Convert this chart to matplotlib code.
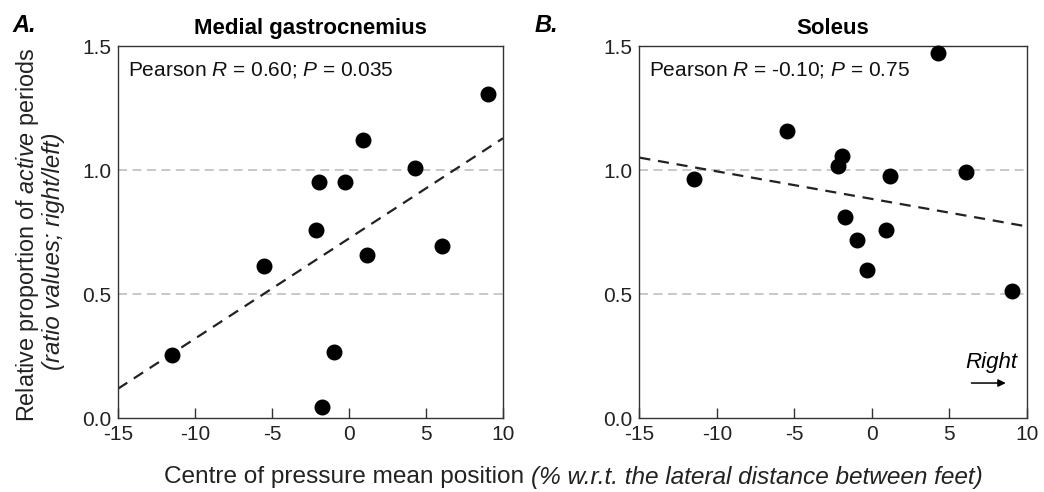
import numpy as np
import matplotlib
matplotlib.use("Agg")
import matplotlib.pyplot as plt

plt.rcParams['font.family'] = ['Liberation Sans', 'DejaVu Sans']
plt.rcParams['mathtext.fontset'] = 'custom'
plt.rcParams['mathtext.rm'] = 'Liberation Sans'
plt.rcParams['mathtext.it'] = 'Liberation Sans:italic'
plt.rcParams['mathtext.bf'] = 'Liberation Sans:bold'
plt.rcParams['axes.unicode_minus'] = False

# =========================
# Datos
# =========================
cop_x = [-11.5, -5.5, -2.15, -1.95, -1.75, -0.95, -0.28, 0.92, 1.2, 4.28, 6.05, 9.05]
ratio_mg = [0.256, 0.613, 0.76, 0.952, 0.043, 0.265, 0.952, 1.122, 0.656, 1.008, 0.694, 1.308]
ratio_sol = [0.962, 1.156, 1.015, 1.056, 0.81, 0.719, 0.598, 0.76, 0.975, 1.471, 0.992, 0.514]

# recta de regresión (pendiente, ordenada en x=0)
fit_mg = (0.0404, 0.724)
fit_sol = (-0.0111, 0.8835)

titles = ["Medial gastrocnemius", "Soleus"]
stats_txt = [r"Pearson $\mathit{R}$ = 0.60; $\mathit{P}$ = 0.035",
             r"Pearson $\mathit{R}$ = -0.10; $\mathit{P}$ = 0.75"]
xticks = [-15, -10, -5, 0, 5, 10]
yticks = [0.0, 0.5, 1.0, 1.5]
ytick_labels = ["0.0", "0.5", "1.0", "1.5"]

fig = plt.figure(figsize=(10.44, 4.92), dpi=100)
ax1 = fig.add_axes([0.1130, 0.1504, 0.3688, 0.7561])
ax2 = fig.add_axes([0.6124, 0.1504, 0.3711, 0.7561])

for ax, y, fit, title, st in zip([ax1, ax2], [ratio_mg, ratio_sol],
                                  [fit_mg, fit_sol], titles, stats_txt):
    ax.set_xlim(-15, 10)
    ax.set_ylim(0, 1.5)
    for h in [0.5, 1.0]:
        ax.axhline(h, color="#c4c4c4", lw=1.3, ls=(0, (5, 3)), zorder=1)
    xx = np.array([-15, 10])
    ax.plot(xx, fit[0] * xx + fit[1], color="#222222", lw=1.6,
            ls=(0, (5, 3.5)), zorder=2)
    ax.scatter(cop_x, y, s=110, color="black", zorder=3, clip_on=False)
    ax.set_xticks(xticks)
    ax.set_yticks(yticks)
    ax.set_yticklabels(ytick_labels)
    ax.tick_params(axis="x", direction="in", length=7, width=1,
                   labelsize=15, pad=5, colors="#333333", labelcolor="#222222")
    ax.tick_params(axis="y", length=0, labelsize=15, pad=5,
                   labelcolor="#222222")
    for s in ax.spines.values():
        s.set_color("#333333")
        s.set_linewidth(1)
    ax.set_title(title, fontsize=16, fontweight="bold", pad=9)
    ax.text(0.026, 0.962, st, transform=ax.transAxes, fontsize=15,
            va="top", ha="left", color="#111111")

fig.text(0.012, 0.972, "A.", fontsize=17, fontweight="bold", style="italic",
         va="top")
fig.text(0.512, 0.972, "B.", fontsize=17, fontweight="bold", style="italic",
         va="top")

# etiqueta eje y (dos líneas)
fig.text(0.026, 0.522, r"Relative proportion of $\mathit{active}$ periods",
         rotation=90, ha="center", va="center", fontsize=16.8, color="#222222")
fig.text(0.051, 0.49, "(ratio values; right/left)", style="italic",
         rotation=90, ha="center", va="center", fontsize=17.3, color="#222222")

# etiqueta eje x (parte normal + parte en cursiva)
xl1 = fig.text(0, 0.03, "Centre of pressure mean position ", fontsize=17.6,
               ha="left", va="center", color="#222222")
xl2 = fig.text(0, 0.03, "(% w.r.t. the lateral distance between feet)",
               fontsize=17.6, style="italic", ha="left", va="center",
               color="#222222")
fig.canvas.draw()
r = fig.canvas.get_renderer()
w1 = xl1.get_window_extent(r).width
w2 = xl2.get_window_extent(r).width
W = fig.bbox.width
x_start = 573.5 - (w1 + w2) / 2
xl1.set_x(x_start / W)
xl2.set_x((x_start + w1) / W)

# flecha "Right"
ax2.text(0.975, 0.135, "Right", transform=ax2.transAxes, fontsize=16,
         style="italic", ha="right", va="baseline")
ax2.annotate("", xy=(0.953, 0.094), xytext=(0.85, 0.094),
             xycoords="axes fraction",
             arrowprops=dict(arrowstyle="-|>", color="black", lw=1.1,
                             mutation_scale=11))

fig.savefig("out.png", dpi=100)
